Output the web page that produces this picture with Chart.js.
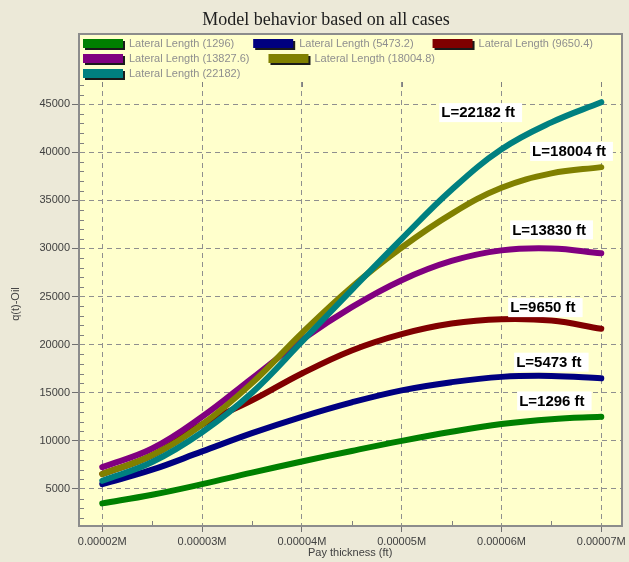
<!DOCTYPE html>
<html>
<head>
<meta charset="utf-8">
<script src="https://cdn.jsdelivr.net/npm/chart.js@4/dist/chart.umd.min.js"></script>
<style>
  html, body { margin: 0; padding: 0; background: #ece9d8; }
  canvas { display: block; }
</style>
</head>
<body>
<canvas id="myChart" width="629" height="562"></canvas>
<script>
// ---------------- data
const payThickness = [0.00002, 0.000025, 0.00003, 0.000035, 0.00004, 0.000045, 0.00005, 0.000055, 0.00006, 0.000065, 0.00007];
const lateralLengths = ["1296", "5473.2", "9650.4", "13827.6", "18004.8", "22182"];
const q1296 = [3500, 4400, 5500, 6700, 7850, 8950, 10000, 10950, 11750, 12250, 12500];
const q5473 = [5500, 7000, 8900, 10800, 12500, 14000, 15250, 16100, 16650, 16750, 16500];
const q9650 = [6550, 8500, 11700, 14200, 17000, 19400, 21100, 22200, 22650, 22500, 21650];
const q13828 = [7270, 9200, 12500, 16500, 20500, 23900, 26700, 28700, 29800, 30000, 29500];
const q18005 = [6550, 8500, 11700, 16000, 21200, 26000, 30100, 33600, 36300, 37800, 38450];
const q22182 = [5850, 7800, 10900, 15000, 20300, 25700, 31000, 36100, 40300, 43100, 45200];

const xTicks = [0.00002, 0.00003, 0.00004, 0.00005, 0.00006, 0.00007];
const xTickLabels = ["0.00002M", "0.00003M", "0.00004M", "0.00005M", "0.00006M", "0.00007M"];
const yTicks = [5000, 10000, 15000, 20000, 25000, 30000, 35000, 40000, 45000];

// curve labels: text, left edge (x) and middle (y) in data units
const labelTexts = ["L=22182 ft", "L=18004 ft", "L=13830 ft", "L=9650 ft", "L=5473 ft", "L=1296 ft"];
const labelX = [0.00005397, 0.00006307, 0.00006107, 0.00006087, 0.00006147, 0.00006177];
const labelY = [44170, 40140, 31980, 23900, 18230, 14200];

const lineColors = ["#008000", "#000080", "#800000", "#800080", "#808000", "#008080"];
const series = [q1296, q5473, q9650, q13828, q18005, q22182];

// --------------- frame, title, legend, labels
const BOX = { left: 79, top: 34, right: 622, bottom: 526 };

const frame = {
  id: "frame",
  beforeDraw(chart) {
    const ctx = chart.ctx;
    ctx.save();
    ctx.fillStyle = "#ece9d8";
    ctx.fillRect(0, 0, chart.width, chart.height);
    ctx.fillStyle = "#ffffcc";
    ctx.fillRect(BOX.left, BOX.top, BOX.right - BOX.left, BOX.bottom - BOX.top);
    ctx.restore();
  },
  beforeDatasetsDraw(chart) {
    // minor ticks inside the plot
    const ctx = chart.ctx;
    const xs = chart.scales.x, ys = chart.scales.y;
    const area = chart.chartArea;
    ctx.save();
    ctx.strokeStyle = "#808080";
    ctx.lineWidth = 1;
    ctx.beginPath();
    for (let v = 2000; v <= 47000; v += 1000) {
      if (v % 5000 == 0) continue;
      const py = Math.round(ys.getPixelForValue(v)) + 0.5;
      ctx.moveTo(area.left, py);
      ctx.lineTo(area.left + 5, py);
    }
    for (let i = 0; i < xTicks.length - 1; i++) {
      const px = Math.round(xs.getPixelForValue((xTicks[i] + xTicks[i + 1]) / 2)) + 0.5;
      ctx.moveTo(px, area.bottom);
      ctx.lineTo(px, area.bottom - 5);
    }
    xTicks.forEach((v) => {
      const px = Math.round(xs.getPixelForValue(v)) + 0.5;
      ctx.moveTo(px, area.top);
      ctx.lineTo(px, area.top + 5);
    });
    ctx.stroke();
    ctx.restore();
  },
  afterDraw(chart) {
    const ctx = chart.ctx;
    const xs = chart.scales.x, ys = chart.scales.y;
    ctx.save();
    // box border
    ctx.strokeStyle = "#8c8c8c";
    ctx.lineWidth = 2;
    ctx.strokeRect(BOX.left, BOX.top, BOX.right - BOX.left, BOX.bottom - BOX.top);

    // title
    ctx.fillStyle = "#202020";
    ctx.font = "18px 'Liberation Serif', 'Times New Roman', serif";
    ctx.textAlign = "center";
    ctx.textBaseline = "middle";
    ctx.fillText("Model behavior based on all cases", 326, 20);

    // legend
    ctx.font = "11px 'Liberation Sans', Arial, sans-serif";
    ctx.textAlign = "left";
    const rows = [[0, 1, 2], [3, 4], [5]];
    rows.forEach((row, r) => {
      let x = 83;
      const y = 44 + r * 15;
      row.forEach((i) => {
        const ds = chart.data.datasets[i];
        ctx.fillStyle = "#1a1a1a";
        ctx.fillRect(x + 2, y - 3, 40, 9);
        ctx.fillStyle = ds.borderColor;
        ctx.fillRect(x, y - 5, 40, 9);
        ctx.fillStyle = "#8f8f8f";
        ctx.fillText(ds.label, x + 46, y);
        x += 46 + ctx.measureText(ds.label).width + 19;
      });
    });

    // curve labels
    ctx.font = "bold 15px 'Liberation Sans', Arial, sans-serif";
    labelTexts.forEach((t, i) => {
      const px = xs.getPixelForValue(labelX[i]);
      const py = ys.getPixelForValue(labelY[i]);
      const w = ctx.measureText(t).width;
      ctx.fillStyle = "#ffffff";
      ctx.fillRect(px - 2, py - 9, w + 9, 19);
      ctx.fillStyle = "#000000";
      ctx.fillText(t, px, py + 1);
    });
    ctx.restore();
  },
};

// --------------- chart
const ctx = document.getElementById("myChart");
new Chart(ctx, {
  type: "line",
  data: {
    datasets: series.map((s, i) => ({
      label: "Lateral Length (" + lateralLengths[i] + ")",
      data: payThickness.map((x, j) => ({ x: x, y: s[j] })),
      borderColor: lineColors[i],
      backgroundColor: lineColors[i],
      borderWidth: 6,
      borderCapStyle: "round",
      borderJoinStyle: "round",
      pointRadius: 0,
      tension: 0.4,
      fill: false,
      order: series.length - 1 - i, // later series drawn on top
    })),
  },
  options: {
    responsive: false,
    animation: false,
    devicePixelRatio: 1,
    layout: { padding: { top: 82, right: 7, left: 0, bottom: 0 } },
    plugins: {
      legend: { display: false },
      title: { display: false },
      tooltip: { enabled: false },
    },
    scales: {
      x: {
        type: "linear",
        min: 0.00001767,
        max: 0.0000720,
        afterBuildTicks: (scale) => {
          scale.ticks = xTicks.map((v) => ({ value: v }));
        },
        afterFit: (scale) => {
          scale.height = 36;
        },
        ticks: {
          autoSkip: false,
          maxRotation: 0,
          padding: 3,
          color: "#404040",
          font: { family: "'Liberation Sans', Arial, sans-serif", size: 11 },
          callback: (v, i) => xTickLabels[i],
        },
        grid: { color: "#8f8f8f", tickLength: 6, tickColor: "#707070" },
        border: { display: true, color: "#8c8c8c", width: 2, dash: [5, 4] },
        title: {
          display: true,
          text: "Pay thickness (ft)",
          color: "#404040",
          font: { family: "'Liberation Sans', Arial, sans-serif", size: 11 },
          padding: { top: 0, bottom: 2 },
        },
      },
      y: {
        min: 1150,
        max: 47300,
        afterBuildTicks: (scale) => {
          scale.ticks = yTicks.map((v) => ({ value: v }));
        },
        afterFit: (scale) => {
          scale.width = 79;
        },
        ticks: {
          padding: 2,
          color: "#404040",
          font: { family: "'Liberation Sans', Arial, sans-serif", size: 11 },
          callback: (v) => String(v),
        },
        grid: { color: "#8f8f8f", tickLength: 7, tickColor: "#707070" },
        border: { display: true, color: "#8c8c8c", width: 2, dash: [5, 4] },
        title: {
          display: true,
          text: "q(t)-Oil",
          color: "#404040",
          font: { family: "'Liberation Sans', Arial, sans-serif", size: 11 },
          padding: { top: 9, bottom: 0 },
        },
      },
    },
  },
  plugins: [frame],
});
</script>
</body>
</html>
